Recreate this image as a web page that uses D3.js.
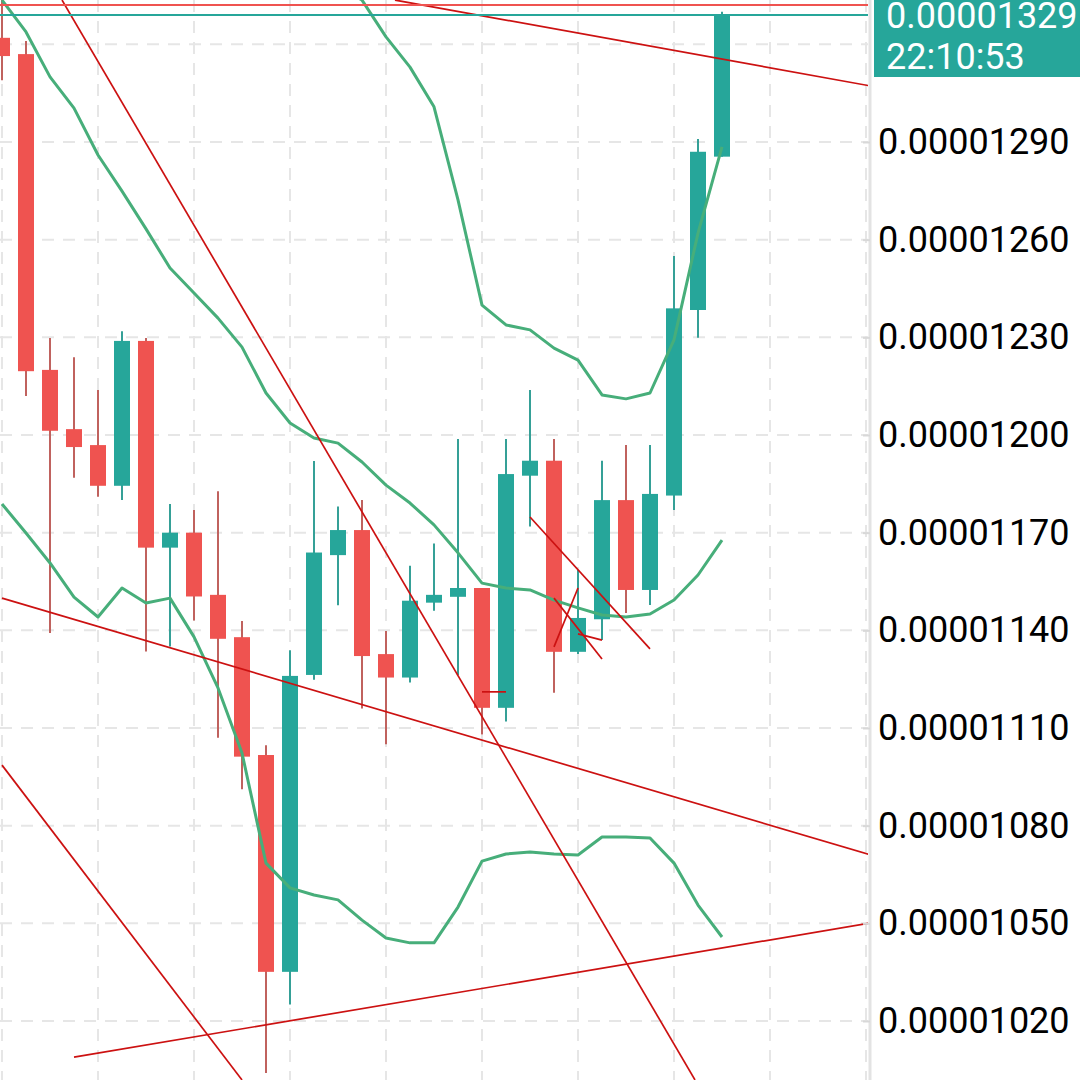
<!DOCTYPE html>
<html lang="en">
<head>
<meta charset="UTF-8">
<title>Candlestick chart</title>
<script src="https://d3js.org/d3.v7.min.js"></script>
<style>
  html, body { margin: 0; padding: 0; background: #fff; }
  svg { display: block; font-family: Roboto, "Noto Sans", sans-serif; }
</style>
</head>
<body>
<script>
  // prices are stored in units of 1e-8 (1290 -> 0.00001290)
  const opens  = [1322, 1317, 1220, 1201.8, 1196.9, 1184.4, 1228.9, 1165.4, 1170, 1150.9,
                  1137.9, 1101.7, 1035.1, 1126.3, 1163.1, 1170.8, 1132.7, 1125.5, 1148.5, 1150.3,
                  1153, 1116.2, 1187.5, 1192.1, 1133.4, 1143.4, 1180, 1152.4, 1181.4, 1238.4, 1285.5];
  const highs  = [1340, 1321, 1229.8, 1223.9, 1213.8, 1231.9, 1229.8, 1178.8, 1177, 1182.7,
                  1142.9, 1104.7, 1133.9, 1192, 1178, 1180, 1139.8, 1159.8, 1166.7, 1198.8,
                  1153, 1198.8, 1213.8, 1198.8, 1158.5, 1192.1, 1196.9, 1196.9, 1255, 1290.9, 1330];
  const lows   = [1309, 1212, 1139.2, 1186.9, 1181, 1180, 1133.5, 1135, 1143, 1107,
                  1091.2, 1004, 1025.1, 1124.8, 1147.7, 1116, 1105, 1124, 1146, 1126.3,
                  1108, 1112, 1171.9, 1120.8, 1132.7, 1137, 1145.3, 1147.8, 1177, 1229.9, 1285.5];
  const closes = [1316.4, 1219.6, 1201.3, 1196.3, 1184.4, 1228.9, 1165.4, 1170, 1150.4, 1137.4,
                  1101.2, 1035.1, 1126, 1163.9, 1170.8, 1132.1, 1125.5, 1149.1, 1150.9, 1153,
                  1116.2, 1188, 1192.1, 1133.4, 1143.8, 1180, 1152.4, 1181.9, 1238.9, 1287, 1329];

  // Bollinger bands
  const bbUpper  = [1488.4, 1477.7, 1459.3, 1450.6, 1427.9, 1396.8, 1378.2, 1352.7, 1349.2, 1349.5,
                    1351.7, 1357.3, 1346.5, 1339.5, 1337.8, 1333.6, 1322.3, 1313, 1300.8, 1272.2,
                    1239.9, 1233.8, 1232.3, 1226.7, 1223, 1212.3, 1211.1, 1212.9, 1229.2, 1262, 1288.5];
  const bbMiddle = [1333.6, 1323.8, 1310, 1300.4, 1286, 1274.9, 1263.3, 1251.3, 1243.6, 1235.9,
                    1227, 1212.9, 1203.7, 1199.1, 1197.5, 1191.7, 1184.6, 1179.1, 1172.4, 1163.8,
                    1154.5, 1153, 1152.4, 1149.3, 1146.9, 1144.7, 1144.1, 1145, 1149.3, 1157, 1167.7];
  const bbLower  = [1178.8, 1169.9, 1160.7, 1150.2, 1144.1, 1153, 1148.4, 1149.9, 1138, 1122.3,
                    1102.3, 1068.5, 1060.9, 1058.7, 1057.2, 1051, 1045.5, 1044, 1044, 1055,
                    1069.1, 1071.3, 1071.9, 1071.3, 1071, 1076.5, 1076.5, 1076.2, 1068.5, 1055.6, 1045.8];

  // hand-drawn trend lines: [bar index, price] end points
  const trendLines = [
    [[2.5, 1333.6], [28.875, 1001.9]],
    [[0, 1149.9], [36.2, 1071]],
    [[16.375, 1333.6], [36.2, 1307.2]],
    [[0, 1098.6], [10, 1001.9]],
    [[3, 1008.9], [36.2, 1050.1]],
    [[20, 1121.1], [21, 1121.1]],
    [[22, 1174.8], [27, 1134.3]],
    [[23, 1149.9], [25, 1131.2]],
    [[23, 1134.9], [24, 1153]],
    [[24, 1138.9], [25, 1137]]
  ];

  const priceTicks = [1020, 1050, 1080, 1110, 1140, 1170, 1200, 1230, 1260, 1290];
  const gridPrices = [1020, 1050, 1080, 1110, 1140, 1170, 1200, 1230, 1260, 1290, 1320];
  const gridBars   = [0, 4, 8, 12, 16, 20, 24, 28, 32, 36];
  const lastPrice = 1329;
  const lastTime  = "22:10:53";
  const highPrice = 1332.1;

  const width = 1080, height = 1080, plotRight = 868;
  const up = "#26a69a", down = "#ef5350";
  const fmt = d => (d * 1e-8).toFixed(8);

  const svg = d3.select("body").append("svg")
    .attr("width", width)
    .attr("height", height);

  const x = d3.scaleLinear().domain([0, 30]).range([2, 722]);
  const y = d3.scaleLinear().domain([1020, 1290]).range([1021, 142]);

  svg.append("clipPath").attr("id", "plot")
    .append("rect").attr("x", 0).attr("y", 0).attr("width", plotRight).attr("height", height);

  const plot = svg.append("g").attr("clip-path", "url(#plot)");

  // grid
  plot.selectAll(".vgrid").data(gridBars).enter().append("line")
    .attr("x1", d => x(d)).attr("x2", d => x(d))
    .attr("y1", 0).attr("y2", height)
    .attr("stroke", "#e6e6e6").attr("stroke-width", 2)
    .attr("stroke-dasharray", "12 9");
  plot.selectAll(".hgrid").data(gridPrices).enter().append("line")
    .attr("x1", 0).attr("x2", plotRight)
    .attr("y1", d => y(d)).attr("y2", d => y(d))
    .attr("stroke", "#e6e6e6").attr("stroke-width", 2)
    .attr("stroke-dasharray", "12 9");

  // candles
  const bars = d3.range(opens.length);
  const candle = plot.selectAll(".candle").data(bars).enter().append("g");
  candle.append("line")
    .attr("x1", i => x(i)).attr("x2", i => x(i))
    .attr("y1", i => y(highs[i])).attr("y2", i => y(lows[i]))
    .attr("stroke", i => closes[i] >= opens[i] ? "#35a097" : "#c0625e")
    .attr("stroke-width", 2);
  candle.append("rect")
    .attr("x", i => x(i) - 8)
    .attr("width", 16)
    .attr("y", i => y(Math.max(opens[i], closes[i])))
    .attr("height", i => Math.max(1, Math.abs(y(opens[i]) - y(closes[i]))))
    .attr("fill", i => closes[i] >= opens[i] ? up : down);

  // Bollinger bands
  const bandLine = arr => d3.line().x((d, i) => x(i)).y(d => y(d))(arr);
  [bbUpper, bbMiddle, bbLower].forEach(b => {
    plot.append("path")
      .attr("d", bandLine(b))
      .attr("fill", "none")
      .attr("stroke", "#47ae7a")
      .attr("stroke-width", 3)
      .attr("stroke-linejoin", "round");
  });

  // trend lines
  plot.selectAll(".trend").data(trendLines).enter().append("line")
    .attr("x1", d => x(d[0][0])).attr("y1", d => y(d[0][1]))
    .attr("x2", d => x(d[1][0])).attr("y2", d => y(d[1][1]))
    .attr("stroke", "#cc1111")
    .attr("stroke-width", 1.7);

  // high and last price lines
  plot.append("line")
    .attr("x1", 0).attr("x2", plotRight)
    .attr("y1", y(highPrice)).attr("y2", y(highPrice))
    .attr("stroke", down).attr("stroke-width", 2);
  plot.append("line")
    .attr("x1", 0).attr("x2", plotRight)
    .attr("y1", y(lastPrice)).attr("y2", y(lastPrice))
    .attr("stroke", up).attr("stroke-width", 2);

  // price axis
  svg.append("line")
    .attr("x1", 870).attr("x2", 870).attr("y1", 0).attr("y2", height)
    .attr("stroke", "#e3e3e3").attr("stroke-width", 3);

  const axis = svg.append("g")
    .attr("transform", "translate(863,0)")
    .call(d3.axisRight(y).tickValues(priceTicks).tickFormat(fmt).tickSize(7).tickPadding(8));
  axis.select(".domain").remove();
  axis.selectAll(".tick line").attr("stroke", "#d8d8d8").attr("stroke-width", 2);
  axis.selectAll(".tick text")
    .attr("fill", "#000")
    .attr("font-size", 36)
    .attr("font-family", "Roboto, sans-serif");

  // last price label
  svg.append("rect")
    .attr("x", 874).attr("y", -10)
    .attr("width", 206).attr("height", 87)
    .attr("fill", up);
  svg.append("text")
    .attr("x", 886).attr("y", y(lastPrice)).attr("dy", "0.355em")
    .attr("fill", "#fff").attr("font-size", 36)
    .text(fmt(lastPrice));
  svg.append("text")
    .attr("x", 886).attr("y", y(lastPrice) + 41).attr("dy", "0.355em")
    .attr("fill", "#fff").attr("font-size", 36)
    .text(lastTime);
</script>
</body>
</html>
